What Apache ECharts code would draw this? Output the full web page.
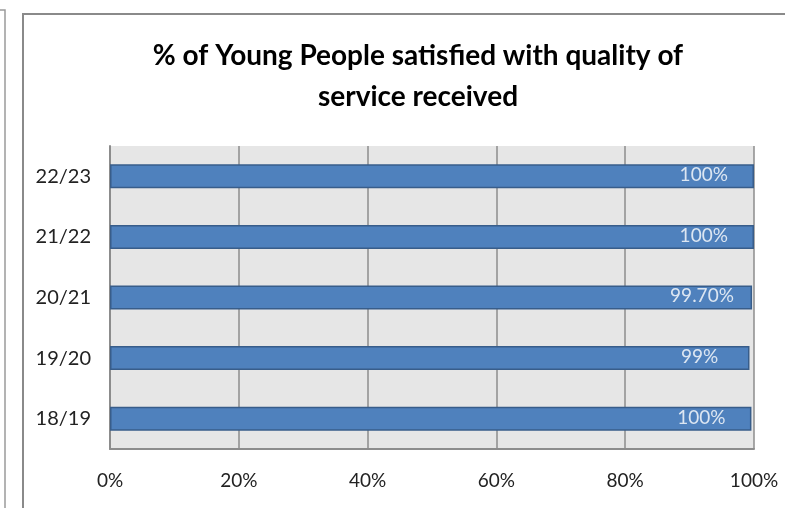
<!DOCTYPE html>
<html>
<head>
<meta charset="utf-8">
<script src="https://cdn.jsdelivr.net/npm/echarts@6/dist/echarts.min.js"></script>
<style>
  html, body { margin: 0; padding: 0; background: #fff; }
  #chart { width: 785px; height: 508px; }
</style>
</head>
<body>
<div id="chart"></div>
<script>
// data
const years = ['18/19', '19/20', '20/21', '21/22', '22/23'];
const satisfied = [99.6, 99.3, 99.7, 100, 100];
const barLabels = ['100%', '99%', '99.70%', '100%', '100%'];
const titleLines = ['% of Young People satisfied with quality of', 'service received'];

const chart = echarts.init(document.getElementById('chart'));

const option = {
  backgroundColor: '#ffffff',
  textStyle: { fontFamily: 'Lato' },
  title: {
    text: titleLines.join('\n'),
    left: 413,
    textAlign: 'center',
    top: 30,
    textStyle: {
      fontFamily: 'Lato',
      fontSize: 28,
      fontWeight: 'bold',
      color: '#000',
      lineHeight: 41
    }
  },
  grid: {
    left: 110,
    right: 31,
    top: 146,
    bottom: 59,
    show: true,
    backgroundColor: '#e6e6e6',
    borderWidth: 0
  },
  xAxis: {
    type: 'value',
    min: 0,
    max: 100,
    interval: 20,
    axisLine: { show: true, lineStyle: { color: '#8c8c8c', width: 2 } },
    axisTick: { show: false },
    splitLine: { show: true, lineStyle: { color: '#8c8c8c', width: 1.5 } },
    axisLabel: {
      formatter: '{value}%',
      margin: 22,
      fontSize: 19,
      color: '#222'
    }
  },
  yAxis: {
    type: 'category',
    data: years,
    axisLine: { show: true, lineStyle: { color: '#8c8c8c', width: 2 } },
    axisTick: { show: false },
    axisLabel: {
      margin: 19,
      fontSize: 20,
      color: '#222'
    }
  },
  series: [
    {
      type: 'bar',
      data: satisfied,
      barWidth: 24,
      itemStyle: {
        color: '#4f81bd',
        borderColor: '#385d8a',
        borderWidth: 1.5
      },
      label: {
        show: true,
        position: ['92.2%', '45%'],
        align: 'center',
        verticalAlign: 'middle',
        fontSize: 19,
        color: '#dce6f2',
        formatter: (p) => barLabels[p.dataIndex]
      }
    }
  ],
  graphic: [
    // frame edges of the chart box and the neighbouring box
    { type: 'polyline', shape: { points: [[23, 508], [23, 14], [785, 14]] }, style: { stroke: '#8a8a8a', lineWidth: 2, fill: null } },
    { type: 'polyline', shape: { points: [[0, 10], [5, 10], [5, 508]] }, style: { stroke: '#9a9a9a', lineWidth: 1.5, fill: null } }
  ]
};

chart.setOption(option);
</script>
</body>
</html>
